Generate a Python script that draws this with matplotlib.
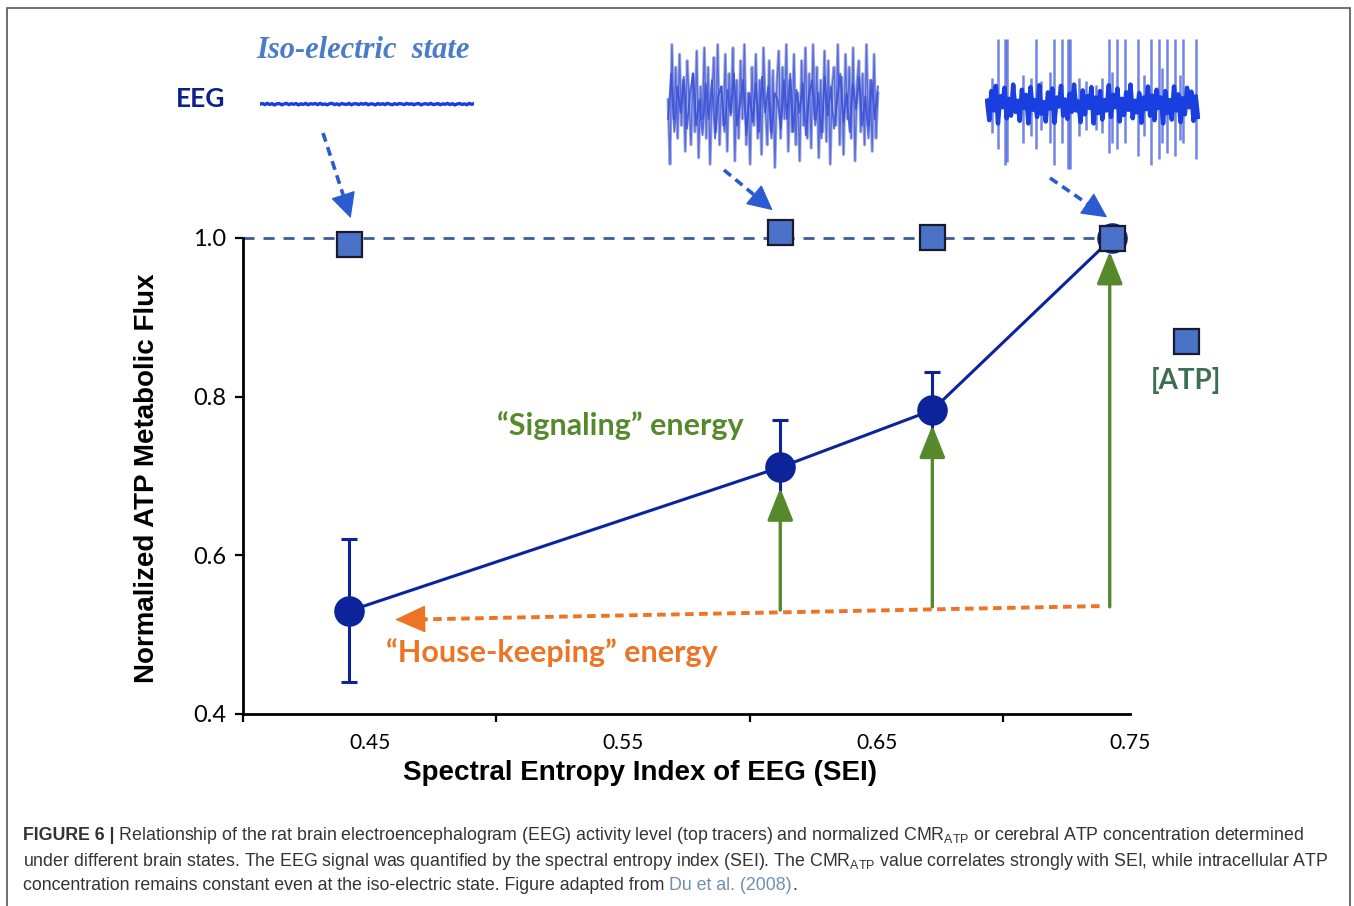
import numpy as np
import matplotlib.pyplot as plt
import matplotlib.patches as mpatches
from matplotlib.lines import Line2D

plt.rcParams['mathtext.fontset'] = 'custom'
plt.rcParams['mathtext.rm'] = 'Liberation Sans'
plt.rcParams['mathtext.bf'] = 'Liberation Sans:bold'

W, H = 1354, 906

# measured data
sei = [0.442, 0.612, 0.672, 0.743]
cmr = [0.530, 0.711, 0.783, 1.000]
cmr_err_lo = [0.090, 0.059, 0.053, 0.0]
cmr_err_hi = [0.090, 0.059, 0.048, 0.0]
atp = [0.993, 1.007, 1.001, 1.000]

# energy arrows (from house-keeping level up to the CMR points)
sig_x = [0.612, 0.672, 0.742]
sig_base = [0.531, 0.535, 0.535]
sig_tip = [0.685, 0.764, 0.983]
hk_start = (0.738, 0.536)
hk_end = (0.460, 0.519)

xtick_labels = ['0.45', '0.55', '0.65', '0.75']
ytick_labels = ['0.4', '0.6', '0.8', '1.0']

# EEG tracers (hand-read amplitudes)
iso_trace = [0.0, 0.4, -0.3, 0.5, -0.2, 0.3, -0.5, 0.2, 0.4, -0.4, 0.1, 0.5, -0.3, 0.3, -0.1,
             0.4, -0.5, 0.2, -0.2, 0.5, -0.4, 0.3, 0.0, 0.4, -0.3, 0.5, -0.2, 0.1, -0.4, 0.3,
             0.5, -0.3, 0.2, -0.5, 0.4, 0.0, -0.2, 0.5, -0.4, 0.2, 0.3, -0.3, 0.4, -0.1, 0.5,
             -0.4, 0.2, 0.1, -0.5, 0.4, -0.2, 0.3, -0.3, 0.5, 0.0, -0.4, 0.3, -0.2, 0.4, 0.1,
             -0.3, 0.5, -0.1, 0.3, -0.4, 0.2, 0.4, -0.5, 0.1, 0.3, -0.2, 0.5, -0.3, 0.0, 0.4,
             -0.4, 0.2, -0.1, 0.5, -0.3, 0.3, -0.5, 0.1, 0.4, -0.2, 0.2, -0.4, 0.5, -0.1, 0.3]
mid_trace = [0.1, -0.9, 0.95, -0.2, 0.6, -0.5, 0.8, -0.3, 0.4, -0.7, 0.7, 0.1, -0.6, 0.5, -0.4,
             0.85, -0.8, 0.3, -0.2, 0.9, -0.5, 0.6, -0.9, 0.2, 0.75, -0.4, 0.95, -0.6, 0.3, -0.3,
             0.8, -0.7, 0.5, -0.1, 0.9, -0.85, 0.4, -0.5, 0.7, -0.2, 0.95, -0.6, 0.2, -0.9, 0.6,
             -0.3, 0.8, -0.5, 0.4, -0.75, 0.9, 0.0, -0.6, 0.7, -0.4, 0.55, -0.95, 0.3, 0.85, -0.5,
             0.6, -0.2, 0.95, -0.7, 0.4, -0.4, 0.8, -0.6, 0.2, -0.85, 0.7, -0.3, 0.9, -0.5, 0.5,
             -0.65, 0.95, -0.2, 0.6, -0.8, 0.4, -0.4, 0.85, -0.55, 0.7, -0.9, 0.3, 0.6, -0.3, 0.95,
             -0.6, 0.45, -0.75, 0.8, -0.2, 0.6, -0.5, 0.9, -0.85, 0.3, 0.7, -0.4, 0.5, -0.6, 0.95,
             -0.3, 0.4, -0.7, 0.8, -0.5, 0.2]
mid_trace_b = [-0.2, 0.5, -0.4, 0.3, -0.1, 0.45, -0.35, 0.2, 0.5, -0.3, 0.1, -0.45, 0.35, -0.2,
               0.4, -0.5, 0.15, 0.3, -0.4, 0.25, -0.15, 0.5, -0.3, 0.05, 0.4, -0.45, 0.2, -0.25,
               0.35, -0.4, 0.45, -0.1, 0.3, -0.5, 0.2, 0.1, -0.35, 0.4, -0.2, 0.5, -0.4, 0.25,
               -0.1, 0.35, -0.45, 0.15, 0.4, -0.3, 0.2, -0.5, 0.45, -0.15, 0.3, -0.35, 0.1, 0.5,
               -0.25, 0.2, -0.4, 0.35, -0.05, 0.45, -0.3, 0.15, -0.5, 0.4, -0.2, 0.3]
act_base = [0.05, -0.25, 0.2, -0.1, 0.28, -0.3, 0.12, -0.05, 0.25, -0.22, 0.08, -0.18, 0.3, -0.12,
            0.05, -0.26, 0.22, -0.06, 0.14, -0.3, 0.26, -0.09, 0.06, -0.2, 0.29, -0.15, 0.03, -0.27,
            0.18, -0.07, 0.24, -0.29, 0.1, -0.04, 0.28, -0.18, 0.07, -0.23, 0.16, -0.12, 0.3, -0.1,
            0.04, -0.28, 0.21, -0.16, 0.12, -0.06, 0.26, -0.3, 0.1, -0.14, 0.2, -0.24, 0.06, -0.1,
            0.29, -0.2, 0.14, -0.05, 0.24, -0.27, 0.08, -0.17, 0.18, -0.09, 0.3, -0.22, 0.05, -0.13,
            0.17, -0.29, 0.1, -0.08, 0.27, -0.18, 0.13, -0.25, 0.22, -0.06, 0.1, -0.3, 0.2, -0.14,
            0.06, -0.24, 0.27, -0.1, 0.15, -0.28, 0.09, -0.16, 0.25, -0.05, 0.19, -0.26, 0.12, -0.2]
spike_pos = [0.023, 0.054, 0.085, 0.092, 0.169, 0.208, 0.231, 0.254, 0.300, 0.315, 0.354, 0.385,
             0.392, 0.438, 0.469, 0.515, 0.546, 0.577, 0.592, 0.615, 0.654, 0.715, 0.746, 0.777,
             0.815, 0.831, 0.854, 0.892, 0.915, 0.931, 0.992]
spike_hi = [0.4, 1.0, 1.0, 1.0, 0.45, 0.4, 1.0, 0.35, 0.5, 1.0, 1.0, 1.0, 1.0, 0.4, 0.35, 0.3,
            0.4, 1.0, 0.5, 1.0, 1.0, 1.0, 0.45, 1.0, 1.0, 0.55, 1.0, 1.0, 0.45, 1.0, 1.0]
spike_lo = [-0.45, -0.7, -0.95, -0.9, -0.6, -0.5, -0.7, -0.4, -0.6, -0.95, -0.6, -1.0, -1.0,
            -0.5, -0.4, -0.4, -0.45, -0.75, -0.6, -0.7, -0.6, -0.8, -0.5, -0.95, -0.85, -0.6,
            -0.75, -0.8, -0.55, -0.6, -0.85]

navy = '#0c239a'
sq_fill = '#4a72c8'
dash_blue = '#3c5a9e'
green = '#56892c'
orange = '#ec7424'
arrow_blue = '#2a5bd0'


def fp(x, y):
    return (x / W, 1 - y / H)


fig = plt.figure(figsize=(W / 100, H / 100), dpi=100)

# frame around the figure
fig.patches.append(mpatches.Rectangle(fp(7, 950), (1350 - 7) / W, (950 - 8) / H,
                                      transform=fig.transFigure, fill=False,
                                      edgecolor='#555555', lw=1.2))

ax = fig.add_axes([243 / W, 1 - 714 / H, 887 / W, 476 / H])
ax.set_xlim(0.40, 0.75)
ax.set_ylim(0.4, 1.0)
for s in ['top', 'right']:
    ax.spines[s].set_visible(False)
for s in ['left', 'bottom']:
    ax.spines[s].set_linewidth(2.0)
    ax.spines[s].set_color('black')

ax.set_xticks([0.45, 0.55, 0.65, 0.75])
ax.set_xticklabels(xtick_labels, fontfamily='Lato', fontsize=15)
ax.set_xticks([0.40, 0.50, 0.60, 0.70, 0.75], minor=True)
ax.tick_params(axis='x', which='major', length=0, pad=14)
ax.tick_params(axis='x', which='minor', length=6, width=1.6, direction='out')
ax.set_yticks([0.4, 0.6, 0.8, 1.0])
ax.set_yticklabels(ytick_labels, fontfamily='Lato', fontsize=17)
ax.tick_params(axis='y', length=6, width=1.6, pad=6)

ax.set_xlabel('Spectral Entropy Index of EEG (SEI)', fontfamily='Liberation Sans',
              fontweight='bold', fontsize=20, labelpad=8)
ax.xaxis.set_label_coords((640 - 243) / 887, -(773 - 714) / 476)
ax.xaxis.label.set_va('center')
ax.set_ylabel('Normalized ATP Metabolic Flux', fontfamily='Liberation Sans',
              fontweight='bold', fontsize=20)
ax.yaxis.set_label_coords(-(243 - 147) / 887, (714 - 478) / 476)
ax.yaxis.label.set_va('center')

# [ATP] reference line
ax.plot([0.40, 0.7435], [1.0, 1.0], ls=(0, (4, 3.2)), color=dash_blue, lw=2.0, zorder=2,
        clip_on=False)

# CMR_ATP
ax.errorbar(sei, cmr, yerr=[cmr_err_lo, cmr_err_hi], color=navy, lw=2.2, elinewidth=2.2,
            capsize=6, capthick=2.2, marker='o', ms=21, zorder=4, clip_on=False)

# signaling energy arrows
for x, b, t in zip(sig_x, sig_base, sig_tip):
    ax.annotate('', xy=(x, t), xytext=(x, b),
                arrowprops=dict(arrowstyle='-|>,head_length=1.0,head_width=0.4', color=green,
                                lw=2.4, shrinkA=0, shrinkB=0, mutation_scale=20), zorder=5)

# house-keeping energy arrow: dashed shaft + solid head
ax.plot([hk_start[0], hk_end[0] + 0.006], [hk_start[1], hk_end[1]], color=orange, lw=2.8,
        ls=(0, (2.2, 1.4)), zorder=3)
ax.annotate('', xy=hk_end, xytext=(hk_end[0] + 0.01, hk_end[1] + 0.0006),
            arrowprops=dict(arrowstyle='-|>,head_length=1.0,head_width=0.45', color=orange,
                            lw=1, shrinkA=0, shrinkB=0, mutation_scale=20), zorder=3)

# ATP concentration squares
ax.plot(sei, atp, ls='none', marker='s', ms=18, mfc=sq_fill, mec='#1a1a2a', mew=1.6,
        zorder=6, clip_on=False)
ax.plot([0.772], [0.870], ls='none', marker='s', ms=18, mfc=sq_fill, mec='#1a1a2a', mew=1.6,
        zorder=6, clip_on=False)
ax.text(0.772, 0.821, '[ATP]', ha='center', va='center', fontfamily='Lato', fontweight='bold',
        fontsize=20, color='#3d6e52', clip_on=False)

ax.text(0.549, 0.764, '\u201cSignaling\u201d energy', ha='center', va='center',
        fontfamily='Lato', fontweight='bold', fontsize=22, color=green)
ax.text(0.5217, 0.477, '\u201cHouse-keeping\u201d energy', ha='center', va='center',
        fontfamily='Lato', fontweight='bold', fontsize=22, color=orange)


# EEG insets
def inset(x0, x1, y0, y1):
    a = fig.add_axes([x0 / W, 1 - y1 / H, (x1 - x0) / W, (y1 - y0) / H])
    a.set_facecolor('none')
    for s in a.spines.values():
        s.set_visible(False)
    a.set_xticks([])
    a.set_yticks([])
    return a


a1 = inset(260, 474, 35, 170)
a1.plot(np.linspace(0, 1, len(iso_trace)), iso_trace, color='#1a3fd8', lw=2.4)
a1.set_xlim(0, 1)
a1.set_ylim(-40, 42)

a2 = inset(666, 880, 40, 172)
a2.plot(np.linspace(0, 1, len(mid_trace)), mid_trace, color='#8a96d8', lw=2.2, alpha=0.8)
a2.plot(np.linspace(0, 1, len(mid_trace_b)), mid_trace_b, color='#3048d8', lw=1.4, alpha=0.8)
a2.plot(np.linspace(0, 1, len(mid_trace)), mid_trace, color='#3a50d8', lw=0.9, alpha=0.7)
a2.set_xlim(-0.01, 1.01)
a2.set_ylim(-1.02, 1.02)

a3 = inset(985, 1200, 38, 170)
a3.vlines(spike_pos, spike_lo, spike_hi, color='#3350d8', lw=1.8, alpha=0.7)
a3.plot(np.linspace(0, 1, len(act_base)), act_base, color='#1a3fe0', lw=3.2)
a3.set_xlim(-0.01, 1.01)
a3.set_ylim(-1.02, 1.02)

fig.text(*fp(201, 99), 'EEG', ha='center', va='center', fontfamily='Lato', fontweight='bold',
         fontsize=19, color='#0d1f8c')
fig.text(*fp(363, 50), 'Iso-electric  state', ha='center', va='center',
         fontfamily='Liberation Serif', fontweight='bold', fontstyle='italic', fontsize=22,
         color='#4a7cc8')

# dashed arrows from tracers to the [ATP] squares
to_fig = ax.transData + fig.transFigure.inverted()
tails = [fp(323, 133), fp(724, 170), fp(1050, 178)]
targets = [(sei[0] + 0.0005, atp[0] + 0.032), (sei[1] - 0.003, atp[1] + 0.028),
           (sei[3] - 0.002, atp[3] + 0.026)]
for (tx, ty), tgt in zip(tails, targets):
    hx, hy = to_fig.transform(tgt)
    dx, dy = hx - tx, hy - ty
    fig.add_artist(Line2D([tx, tx + 0.82 * dx], [ty, ty + 0.82 * dy], color=arrow_blue, lw=2.6,
                          ls=(0, (2.5, 1.6)), transform=fig.transFigure))
    fig.add_artist(mpatches.FancyArrowPatch((tx + 0.8 * dx, ty + 0.8 * dy), (hx, hy),
                                            arrowstyle='-|>,head_length=0.9,head_width=0.45',
                                            mutation_scale=18, color=arrow_blue, lw=1,
                                            shrinkA=0, shrinkB=0, transform=fig.transFigure))

# caption
renderer = fig.canvas.get_renderer()


def caption_line(y, pieces):
    x = 23 / W
    for s, kw in pieces:
        t = fig.text(x, 1 - y / H, s, ha='left', va='center', fontfamily='Liberation Sans',
                     fontsize=12.8, **kw)
        x += t.get_window_extent(renderer).width / W


cap_col = '#333333'
caption_line(836, [('FIGURE 6 |', dict(fontweight='bold', color=cap_col)),
                   (' Relationship of the rat brain electroencephalogram (EEG) activity level '
                    '(top tracers) and normalized CMR$_{\\rm ATP}$ or cerebral ATP concentration '
                    'determined', dict(color=cap_col))])
caption_line(861, [('under different brain states. The EEG signal was quantified by the spectral '
                    'entropy index (SEI). The CMR$_{\\rm ATP}$ value correlates strongly with SEI, '
                    'while intracellular ATP', dict(color=cap_col))])
caption_line(886, [('concentration remains constant even at the iso-electric state. Figure adapted '
                    'from ', dict(color=cap_col)),
                   ('Du et al. (2008)', dict(color='#6f8fb0')),
                   ('.', dict(color=cap_col))])

fig.savefig('out.png', dpi=100)
